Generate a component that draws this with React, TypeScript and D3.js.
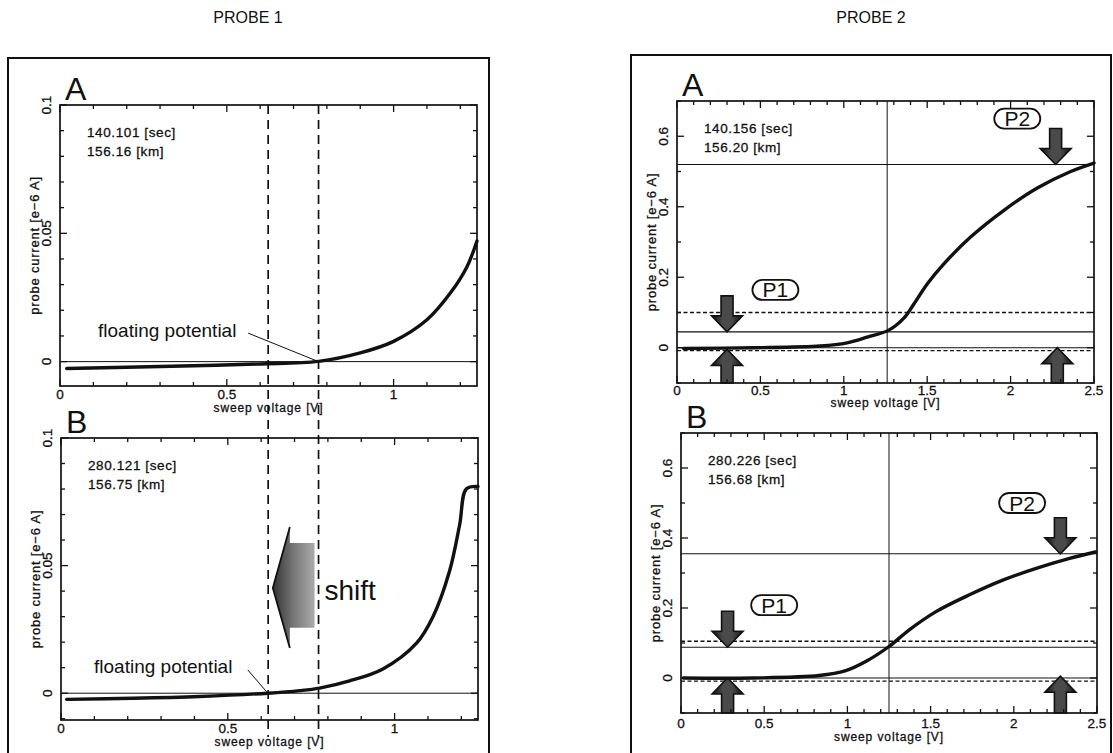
import React from 'react';
import * as d3 from 'd3';

// ---- probe 1 : sweep voltage [V] vs probe current [e-6 A]
const p1aVolts = [0.02, 0.2, 0.4, 0.6, 0.775, 0.9, 1.0, 1.1, 1.17, 1.22, 1.25];
const p1aCurrent = [-0.0027, -0.0022, -0.0016, -0.0009, 0.0001, 0.0034, 0.0079, 0.0163, 0.0267, 0.037, 0.047];
const p1bVolts = [0.017, 0.216, 0.415, 0.62, 0.716, 0.775, 0.865, 0.965, 1.065, 1.115, 1.165, 1.195, 1.215, 1.25];
const p1bCurrent = [-0.0024, -0.002, -0.0013, 0.0, 0.001, 0.002, 0.0048, 0.0095, 0.0195, 0.03, 0.048, 0.066, 0.08, 0.081];

const p1XTicks = [0, 0.5, 1];
const p1YTicks = [0, 0.05, 0.1];
const p1aInfo = ['140.101 [sec]', '156.16 [km]'];
const p1bInfo = ['280.121 [sec]', '156.75 [km]'];
// floating potential of A and B (dashed markers)
const p1FloatingVolts = [0.624, 0.775];
const p1aFloatLabel = [0.114, 0.0096];
const p1aFloatLeader = [[0.564, 0.0111], [0.775, 0]];
const p1bFloatLabel = [0.099, 0.0079];
const p1bFloatLeader = [[0.56, 0.0091], [0.62, 0]];
// shift arrow outline (volts, current)
const shiftArrowVolts = [0.635, 0.686, 0.686, 0.76, 0.76, 0.686, 0.686];
const shiftArrowCurrent = [0.0412, 0.0651, 0.0589, 0.0589, 0.0256, 0.0256, 0.0177];
const shiftLabel = [0.79, 0.0365];

// ---- probe 2
const p2aVolts = [0.04, 0.46, 0.86, 1.02, 1.14, 1.27, 1.36, 1.42, 1.5, 1.6, 1.76, 1.96, 2.16, 2.36, 2.5];
const p2aCurrent = [-0.002, 0.0, 0.005, 0.014, 0.03, 0.05, 0.084, 0.124, 0.181, 0.238, 0.314, 0.39, 0.453, 0.5, 0.524];
const p2bVolts = [0.014, 0.43, 0.83, 0.99, 1.11, 1.25, 1.37, 1.53, 1.73, 1.93, 2.13, 2.33, 2.49];
const p2bCurrent = [0.0, 0.0, 0.007, 0.021, 0.047, 0.09, 0.137, 0.189, 0.237, 0.279, 0.3125, 0.341, 0.36];

const p2XTicks = [0, 0.5, 1, 1.5, 2, 2.5];
const p2YTicks = [0, 0.2, 0.4, 0.6];
const p2aInfo = ['140.156 [sec]', '156.20 [km]'];
const p2bInfo = ['280.226 [sec]', '156.68 [km]'];
const p2aSolidLevels = [0.52, 0.045, 0];
const p2aDashedLevels = [0.1, -0.008];
const p2bSolidLevels = [0.355, 0.088, 0];
const p2bDashedLevels = [0.105, -0.009];
const p2aMarkerVolt = 1.26;
const p2bMarkerVolt = 1.25;
const p2aArrowsDown = [[0.3, 0.045], [2.27, 0.52]];
const p2aArrowsUp = [[0.3, -0.005], [2.28, 0]];
const p2bArrowsDown = [[0.28, 0.088], [2.28, 0.355]];
const p2bArrowsUp = [[0.28, 0], [2.28, 0.005]];
const p2aTags: [string, number, number][] = [['P1', 0.59, 0.164], ['P2', 2.04, 0.65]];
const p2bTags: [string, number, number][] = [['P1', 0.56, 0.208], ['P2', 2.05, 0.5]];

const FONT = 'Liberation Sans, Arial, Helvetica, sans-serif';
const INK = '#111';
// a faint outline makes the thin scan-like text a bit heavier
const heavy = { stroke: INK, strokeWidth: 0.3 };

const panels = [
  { id: 'p1a', letter: 'A', left: 60, right: 477, top: 105, bottom: 386, xDomain: [0, 1.25], yDomain: [-0.0095, 0.1], volts: p1aVolts, current: p1aCurrent, info: p1aInfo, xLabels: p1XTicks, yLabels: p1YTicks, xMinor: 12, yMinor: 11, labelGap: 13, titleGap: 26 },
  { id: 'p1b', letter: 'B', left: 61, right: 478, top: 438, bottom: 720, xDomain: [0, 1.25], yDomain: [-0.0105, 0.1], volts: p1bVolts, current: p1bCurrent, info: p1bInfo, xLabels: p1XTicks, yLabels: p1YTicks, xMinor: 12, yMinor: 11, labelGap: 13, titleGap: 26 },
  { id: 'p2a', letter: 'A', left: 677, right: 1094, top: 101, bottom: 383, xDomain: [0, 2.5], yDomain: [-0.1, 0.7], volts: p2aVolts, current: p2aCurrent, info: p2aInfo, xLabels: p2XTicks, yLabels: p2YTicks, xMinor: 25, yMinor: 8, labelGap: 12, titleGap: 24 },
  { id: 'p2b', letter: 'B', left: 681, right: 1097, top: 433, bottom: 713, xDomain: [0, 2.5], yDomain: [-0.1, 0.7], volts: p2bVolts, current: p2bCurrent, info: p2bInfo, xLabels: p2XTicks, yLabels: p2YTicks, xMinor: 25, yMinor: 8, labelGap: 15, titleGap: 28 },
];

const scalesFor = (p: any) => ({
  x: d3.scaleLinear().domain(p.xDomain).range([p.left, p.right]),
  y: d3.scaleLinear().domain(p.yDomain).range([p.bottom, p.top]),
});

const isMajor = (v: number, list: number[]) => list.some((m) => Math.abs(m - v) < 1e-9);

function Frame({ p }: { p: any }) {
  const { x, y } = scalesFor(p);
  const line = d3
    .line<number>()
    .x((_, i) => x(p.volts[i]))
    .y((d) => y(d))
    .curve(d3.curveCatmullRom.alpha(0.5));
  const xt = x.ticks(p.xMinor);
  const yt = y.ticks(p.yMinor);
  const cx = (p.left + p.right) / 2;
  const cy = (p.top + p.bottom) / 2;
  return (
    <g>
      <text x={p.left + 5} y={p.top - 5} fontSize={32} fontFamily={FONT} fill={INK}>{p.letter}</text>
      {p.info.map((t: string, i: number) => (
        <text key={t} x={p.left + 27} y={p.top + 32 + i * 19} fontSize={13.5} letterSpacing={0.6} fontFamily={FONT} fill={INK} {...heavy}>{t}</text>
      ))}
      {/* ticks on all four sides */}
      {xt.map((v) => {
        const len = isMajor(v, p.xLabels) ? 7 : 4;
        return (
          <g key={'x' + v} stroke={INK} strokeWidth={1.3}>
            <line x1={x(v)} x2={x(v)} y1={p.bottom} y2={p.bottom - len} />
            <line x1={x(v)} x2={x(v)} y1={p.top} y2={p.top + len} />
          </g>
        );
      })}
      {yt.map((v) => {
        const len = isMajor(v, p.yLabels) ? 7 : 4;
        return (
          <g key={'y' + v} stroke={INK} strokeWidth={1.3}>
            <line x1={p.left} x2={p.left + len} y1={y(v)} y2={y(v)} />
            <line x1={p.right} x2={p.right - len} y1={y(v)} y2={y(v)} />
          </g>
        );
      })}
      {p.xLabels.map((v: number) => (
        <text key={'xl' + v} x={x(v)} y={p.bottom + p.labelGap} textAnchor="middle" fontSize={13.5} fontFamily={FONT} fill={INK} {...heavy}>{String(v)}</text>
      ))}
      {p.yLabels.map((v: number) => (
        <text key={'yl' + v} transform={`translate(${p.left - 14},${y(v)}) rotate(-90)`} textAnchor="middle" dominantBaseline="central" fontSize={13.5} fontFamily={FONT} fill={INK} {...heavy}>{String(v)}</text>
      ))}
      <text x={cx} y={p.bottom + p.titleGap} textAnchor="middle" fontSize={12} letterSpacing={0.9} fontFamily={FONT} fill={INK} {...heavy}>sweep voltage [V]</text>
      <text transform={`translate(${p.left - 26},${cy}) rotate(-90)`} textAnchor="middle" dominantBaseline="central" fontSize={13} letterSpacing={0.8} fontFamily={FONT} fill={INK} {...heavy}>probe current [e−6 A]</text>
      <path d={line(p.current) || ''} fill="none" stroke={INK} strokeWidth={3.4} strokeLinejoin="round" strokeLinecap="round" />
      <rect x={p.left} y={p.top} width={p.right - p.left} height={p.bottom - p.top} fill="none" stroke={INK} strokeWidth={1.7} />
    </g>
  );
}

function Arrow({ cx, tip, dir, base }: { cx: number; tip: number; dir: 1 | -1; base?: number }) {
  // dir 1 = pointing down, -1 = pointing up
  const headLen = 16, headW = 31, shaftW = 12;
  const hb = tip - dir * headLen;
  const end = base !== undefined ? base : hb - dir * 20;
  const pts = [
    [cx - shaftW / 2, end], [cx + shaftW / 2, end], [cx + shaftW / 2, hb], [cx + headW / 2, hb],
    [cx, tip], [cx - headW / 2, hb], [cx - shaftW / 2, hb],
  ];
  return <polygon points={pts.map((q) => q.join(',')).join(' ')} fill="url(#arrowGrad)" stroke={INK} strokeWidth={1.6} strokeLinejoin="miter" />;
}

function Probe2Extras({ p, solid, dashed, marker, down, up, tags }: any) {
  const { x, y } = scalesFor(p);
  return (
    <g>
      {solid.map((v: number) => (
        <line key={'s' + v} x1={p.left} x2={p.right} y1={y(v)} y2={y(v)} stroke={INK} strokeWidth={1.1} />
      ))}
      {dashed.map((v: number) => (
        <line key={'d' + v} x1={p.left} x2={p.right} y1={y(v)} y2={y(v)} stroke={INK} strokeWidth={1.3} strokeDasharray="4,2.5" />
      ))}
      <line x1={x(marker)} x2={x(marker)} y1={p.top} y2={p.bottom} stroke={INK} strokeWidth={1} />
      {down.map((a: number[], i: number) => (
        <Arrow key={'dn' + i} cx={x(a[0])} tip={y(a[1])} dir={1} />
      ))}
      {up.map((a: number[], i: number) => (
        <Arrow key={'up' + i} cx={x(a[0])} tip={y(a[1])} dir={-1} base={p.bottom} />
      ))}
      {tags.map(([t, vx, vy]: [string, number, number]) => (
        <g key={t}>
          <rect x={x(vx) - 23} y={y(vy) - 10} width={46} height={20} rx={10} fill="#fff" stroke={INK} strokeWidth={1.8} />
          <text x={x(vx)} y={y(vy) + 7.5} textAnchor="middle" fontSize={21} fontFamily={FONT} fill={INK}>{t}</text>
        </g>
      ))}
    </g>
  );
}

function Probe1Extras() {
  const pa = panels[0];
  const pb = panels[1];
  const A = scalesFor(pa);
  const B = scalesFor(pb);
  const shiftPts = shiftArrowVolts.map((v, i) => [B.x(v), B.y(shiftArrowCurrent[i])]);
  return (
    <g>
      {[pa, pb].map((p) => {
        const { y } = scalesFor(p);
        return <line key={'z' + p.id} x1={p.left} x2={p.right} y1={y(0)} y2={y(0)} stroke={INK} strokeWidth={1} />;
      })}
      {p1FloatingVolts.map((v) => (
        <line key={'fv' + v} x1={A.x(v)} x2={A.x(v)} y1={pa.top} y2={pb.bottom + 17} stroke={INK} strokeWidth={1.7} strokeDasharray="9,6" />
      ))}
      <text x={A.x(p1aFloatLabel[0])} y={A.y(p1aFloatLabel[1])} fontSize={19} fontFamily={FONT} fill={INK}>floating potential</text>
      <line x1={A.x(p1aFloatLeader[0][0])} y1={A.y(p1aFloatLeader[0][1])} x2={A.x(p1aFloatLeader[1][0])} y2={A.y(p1aFloatLeader[1][1])} stroke={INK} strokeWidth={1} />
      <text x={B.x(p1bFloatLabel[0])} y={B.y(p1bFloatLabel[1])} fontSize={19} fontFamily={FONT} fill={INK}>floating potential</text>
      <line x1={B.x(p1bFloatLeader[0][0])} y1={B.y(p1bFloatLeader[0][1])} x2={B.x(p1bFloatLeader[1][0])} y2={B.y(p1bFloatLeader[1][1])} stroke={INK} strokeWidth={1} />
      <polygon points={shiftPts.map((q) => q.join(',')).join(' ')} fill="url(#shiftGrad)" />
      <polyline points={[shiftPts[1], shiftPts[0], shiftPts[6]].map((q) => q.join(',')).join(' ')} fill="none" stroke={INK} strokeWidth={1.8} />
      <text x={B.x(shiftLabel[0])} y={B.y(shiftLabel[1])} fontSize={28} fontFamily={FONT} fill={INK}>shift</text>
    </g>
  );
}

export default function App() {
  return (
    <svg width={1113} height={753} style={{ position: 'absolute', left: 0, top: 0, background: '#fff' }}>
      <defs>
        <linearGradient id="arrowGrad" x1="0" x2="1" y1="0" y2="0">
          <stop offset="0" stopColor="#111" />
          <stop offset="0.35" stopColor="#4a4a4a" />
          <stop offset="0.65" stopColor="#4a4a4a" />
          <stop offset="1" stopColor="#111" />
        </linearGradient>
        <linearGradient id="shiftGrad" x1="0" x2="1" y1="0" y2="0">
          <stop offset="0" stopColor="#333" />
          <stop offset="0.5" stopColor="#777" />
          <stop offset="1" stopColor="#aaa" />
        </linearGradient>
      </defs>
      <rect x={0} y={0} width={1113} height={753} fill="#fff" />
      <text x={248} y={23} textAnchor="middle" fontSize={16} fontFamily={FONT} fill={INK}>PROBE 1</text>
      <text x={871} y={23} textAnchor="middle" fontSize={16} fontFamily={FONT} fill={INK}>PROBE 2</text>
      <rect x={8} y={58} width={481} height={710} fill="none" stroke={INK} strokeWidth={2} />
      <rect x={631} y={55} width={480} height={713} fill="none" stroke={INK} strokeWidth={2} />
      <Probe1Extras />
      <Probe2Extras p={panels[2]} solid={p2aSolidLevels} dashed={p2aDashedLevels} marker={p2aMarkerVolt} down={p2aArrowsDown} up={p2aArrowsUp} tags={p2aTags} />
      <Probe2Extras p={panels[3]} solid={p2bSolidLevels} dashed={p2bDashedLevels} marker={p2bMarkerVolt} down={p2bArrowsDown} up={p2bArrowsUp} tags={p2bTags} />
      {panels.map((p) => (
        <Frame key={p.id} p={p} />
      ))}
    </svg>
  );
}
